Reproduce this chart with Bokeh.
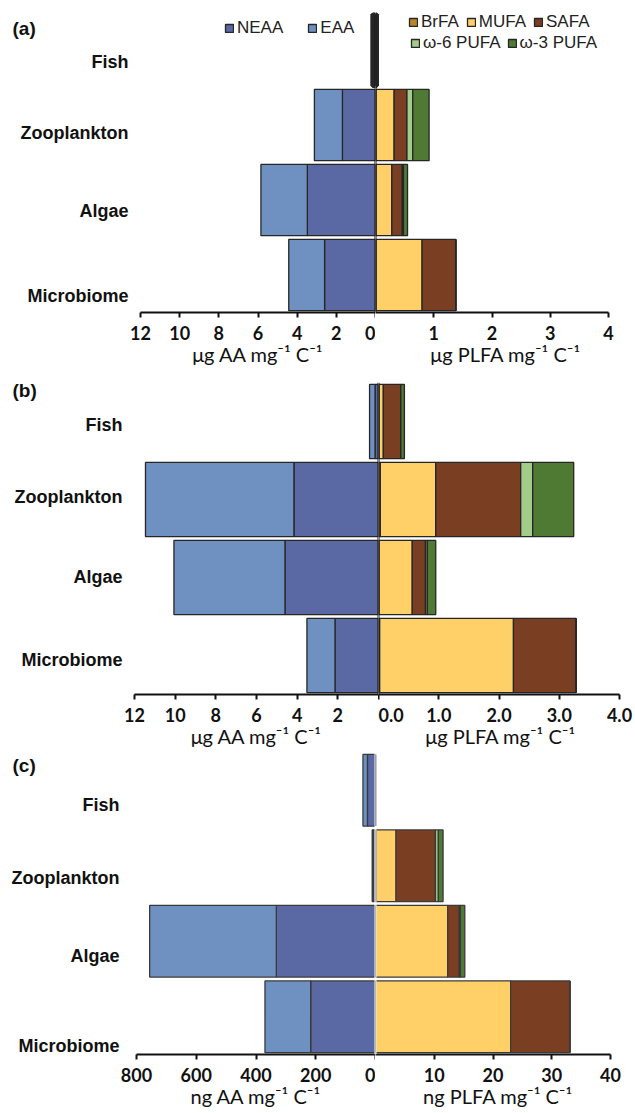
from bokeh.plotting import figure
from bokeh.models import (ColumnDataSource, Range1d, FactorRange, FixedTicker,
                          NumeralTickFormatter, LabelSet, Label, Legend,
                          LegendItem, Span)
from bokeh.layouts import row, column
from bokeh.embed import file_html
from bokeh.resources import INLINE
from bokeh.core.properties import value

# ---------------- data ----------------
categories = ["Fish", "Zooplankton", "Algae", "Microbiome"]
aa_names = ["NEAA", "EAA"]
fa_names = ["BrFA", "MUFA", "SAFA", "ω-6 PUFA", "ω-3 PUFA"]

# panel (a): µg per mg C
a_neaa = [0.10, 1.69, 3.48, 2.60]
a_eaa = [0.05, 1.43, 2.37, 1.83]
a_brfa = [0.00, 0.01, 0.01, 0.01]
a_mufa = [0.00, 0.31, 0.27, 0.79]
a_safa = [0.02, 0.22, 0.18, 0.58]
a_w6 = [0.00, 0.10, 0.02, 0.00]
a_w3 = [0.00, 0.28, 0.07, 0.00]
a_aa_ticks = [0, 2, 4, 6, 8, 10, 12]
a_fa_ticks = [1, 2, 3, 4]

# panel (b): µg per mg C
b_neaa = [0.17, 4.16, 4.60, 2.14]
b_eaa = [0.27, 7.30, 5.46, 1.38]
b_brfa = [0.01, 0.03, 0.01, 0.02]
b_mufa = [0.07, 0.92, 0.55, 2.22]
b_safa = [0.29, 1.41, 0.22, 1.04]
b_w6 = [0.00, 0.20, 0.03, 0.00]
b_w3 = [0.06, 0.68, 0.14, 0.00]
b_aa_ticks = [2, 4, 6, 8, 10, 12]
b_fa_ticks = [0, 1, 2, 3, 4]

# panel (c): ng per mg C
c_neaa = [27, 8, 332, 217]
c_eaa = [15, 3, 424, 153]
c_brfa = [0.0, 0.1, 0.0, 0.0]
c_mufa = [0.0, 3.4, 12.3, 23.0]
c_safa = [0.0, 6.7, 1.95, 10.1]
c_w6 = [0.0, 0.5, 0.2, 0.0]
c_w3 = [0.0, 0.8, 0.75, 0.0]
c_aa_ticks = [0, 200, 400, 600, 800]
c_fa_ticks = [10, 20, 30, 40]

aa_titles = ["μg AA mg⁻¹ C⁻¹", "μg AA mg⁻¹ C⁻¹", "ng AA mg⁻¹ C⁻¹"]
fa_titles = ["μg PLFA mg⁻¹ C⁻¹", "μg PLFA mg⁻¹ C⁻¹", "ng PLFA mg⁻¹ C⁻¹"]
panel_tags = ["(a)", "(b)", "(c)"]

# ---------------- style / layout ----------------
AA_COLORS = ["#5a68a4", "#6f91c1"]
FA_COLORS = ["#b8862b", "#fed067", "#7a3f22", "#a3cb8a", "#4e7a33"]
TICK_FONT = "Lato"
TITLE_FONT = "Lato"
CAT_FONT = "Liberation Sans"
LEG_FONT = "Liberation Sans"

# w0: label strip; w1/b1: AA figure and its left border;
# w2/b2: PLFA figure and its right border; ax2: pixel length of the PLFA axis
LAYOUT = [
    dict(w0=129, w1=246, b1=11, w2=260, b2=0, ax2=233, fh=300, bt=12, bb=58,
         lab_dx=-1, lab_dy=[12, 8, 11, 21], tag=(12, 284),
         zero="#1a1a1a", outline="#262626", fish_lw=4.5, fmt="0", legend=True),
    dict(w0=123, w1=255, b1=11, w2=257, b2=13, ax2=241, fh=312, bt=12, bb=58,
         lab_dx=-1, lab_dy=[3, -3, -1, 4], tag=(12, 304),
         zero="#1a1a1a", outline="#262626", fish_lw=1.3, fmt="0.0", legend=False),
    dict(w0=120, w1=255, b1=16, w2=260, b2=15, ax2=235, fh=302, bt=0, bb=58,
         lab_dx=-1, lab_dy=[15, 12, 15, 29], tag=(12, 289),
         zero="#ffffff", outline="#3a3a3a", fish_lw=1.3, fmt="0", legend=False),
]


def style_axis(ax, ticks, fmt):
    ax.ticker = FixedTicker(ticks=ticks)
    ax.formatter = NumeralTickFormatter(format=fmt)
    ax.axis_line_width = 2
    ax.axis_line_color = "#111111"
    ax.major_tick_line_width = 2
    ax.major_tick_line_color = "#111111"
    ax.major_tick_out = 5
    ax.major_tick_in = 0
    ax.minor_tick_line_color = None
    ax.major_label_standoff = 8
    ax.major_label_text_font = TICK_FONT
    ax.major_label_text_font_style = "bold"
    ax.major_label_text_font_size = "18px"
    ax.major_label_text_line_height = 1.0
    ax.major_label_text_color = "#111111"
    ax.axis_label_standoff = -1
    ax.axis_label_text_font = TITLE_FONT
    ax.axis_label_text_font_style = "normal"
    ax.axis_label_text_font_size = "20px"
    ax.axis_label_text_line_height = 1.0
    ax.axis_label_text_color = "#111111"


def make_panel(i, aa, fa, aa_ticks, fa_ticks):
    L = LAYOUT[i]
    h = L["bt"] + L["fh"] + L["bb"]
    lw = [L["fish_lw"], 1.3, 1.3, 1.3]
    src = ColumnDataSource(dict(cat=categories, neaa=aa[0], eaa=aa[1],
                                brfa=fa[0], mufa=fa[1], safa=fa[2],
                                w6=fa[3], w3=fa[4], lw=lw))
    yr = FactorRange(factors=list(reversed(categories)), range_padding=0)

    common = dict(height=h, y_range=yr, toolbar_location=None,
                  output_backend="svg", y_axis_location=None,
                  min_border_top=L["bt"], min_border_bottom=L["bb"],
                  outline_line_color=None, background_fill_color="white")

    fa_max = max(fa_ticks)
    frame_w2 = L["w2"] - L["b2"]
    fa_end = fa_max * frame_w2 / L["ax2"]   # frame runs a little past the axis end

    p0 = figure(width=L["w0"], x_range=Range1d(0, 1), x_axis_location=None,
                min_border_left=0, min_border_right=0, **common)
    pl = figure(width=L["w1"], x_range=Range1d(max(aa_ticks), 0),
                min_border_left=L["b1"], min_border_right=0, **common)
    pr = figure(width=L["w2"], x_range=Range1d(0, fa_end),
                min_border_left=0, min_border_right=L["b2"], **common)

    for p in (p0, pl, pr):
        p.xgrid.visible = False
        p.ygrid.visible = False

    rl = pl.hbar_stack(["neaa", "eaa"], y="cat", height=0.95, source=src,
                       fill_color=AA_COLORS, line_color=L["outline"],
                       line_width="lw")
    rr = pr.hbar_stack(["brfa", "mufa", "safa", "w6", "w3"], y="cat",
                       height=0.95, source=src, fill_color=FA_COLORS,
                       line_color=L["outline"], line_width="lw")

    style_axis(pl.xaxis[0], aa_ticks, "0")
    style_axis(pr.xaxis[0], fa_ticks, L["fmt"])
    pr.xaxis[0].bounds = (0, fa_max)
    pl.xaxis[0].axis_label = aa_titles[i]
    pr.xaxis[0].axis_label = fa_titles[i]

    for p in (pl, pr):
        p.add_layout(Span(location=0, dimension="height", line_color=L["zero"],
                          line_width=2))

    lab_src = ColumnDataSource(dict(x=[1] * len(categories), y=categories,
                                    text=categories,
                                    dy=[-d for d in L["lab_dy"]]))
    p0.add_layout(LabelSet(x="x", y="y", text="text", source=lab_src,
                           x_offset=L["lab_dx"], y_offset="dy",
                           text_align="right", text_baseline="middle",
                           text_font=value(CAT_FONT), text_font_style="bold",
                           text_font_size="18px", text_color="#111111"))

    tx, ty = L["tag"]
    p0.add_layout(Label(x=tx, y=ty, x_units="screen", y_units="screen",
                        text=panel_tags[i], text_baseline="middle",
                        text_font=CAT_FONT, text_font_style="bold",
                        text_font_size="19px", text_color="#111111"))

    if L["legend"]:
        leg_common = dict(orientation="horizontal", glyph_width=10,
                          glyph_height=10, label_standoff=3, padding=0,
                          margin=0, border_line_color=None,
                          background_fill_alpha=0, label_text_font=LEG_FONT,
                          label_text_font_size="17px", label_height=20,
                          label_text_line_height=1.0,
                          label_text_color="#222222")
        leg_aa = Legend(items=[LegendItem(label=n, renderers=[r], index=1)
                               for n, r in zip(aa_names, rl)],
                        location=(84, 274), spacing=24, **leg_common)
        pl.add_layout(leg_aa)
        leg_fa1 = Legend(items=[LegendItem(label=n, renderers=[r], index=1)
                                for n, r in zip(fa_names[:3], rr[:3])],
                         location=(33, 280), spacing=7, **leg_common)
        leg_fa2 = Legend(items=[LegendItem(label=n, renderers=[r], index=1)
                                for n, r in zip(fa_names[3:], rr[3:])],
                         location=(35, 259), spacing=6, **leg_common)
        pr.add_layout(leg_fa1)
        pr.add_layout(leg_fa2)

    return row(p0, pl, pr)


pa = make_panel(0, [a_neaa, a_eaa], [a_brfa, a_mufa, a_safa, a_w6, a_w3],
                a_aa_ticks, a_fa_ticks)
pb = make_panel(1, [b_neaa, b_eaa], [b_brfa, b_mufa, b_safa, b_w6, b_w3],
                b_aa_ticks, b_fa_ticks)
pc = make_panel(2, [c_neaa, c_eaa], [c_brfa, c_mufa, c_safa, c_w6, c_w3],
                c_aa_ticks, c_fa_ticks)

page = column(pa, pb, pc)
open("out.html", "w").write(file_html(page, INLINE))
